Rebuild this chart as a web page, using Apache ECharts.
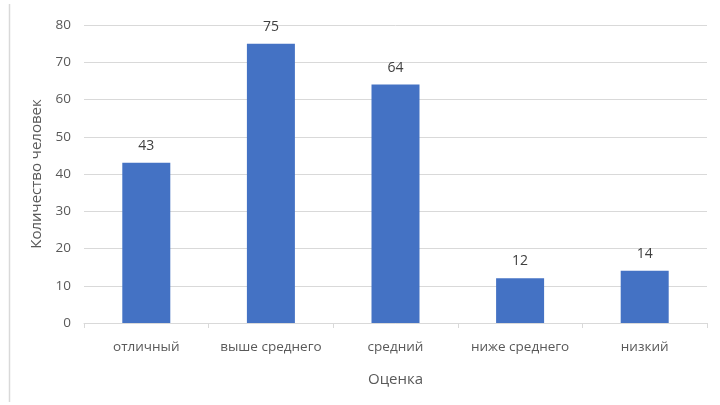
<!DOCTYPE html>
<html>
<head>
<meta charset="utf-8">
<script src="https://cdn.jsdelivr.net/npm/echarts@6/dist/echarts.min.js"></script>
<style>
  html, body { margin: 0; padding: 0; background: #ffffff; }
  #chart { width: 720px; height: 405px; }
</style>
</head>
<body>
<div id="chart"></div>
<script>
// Распределение по оценкам
const categories = ['отличный', 'выше среднего', 'средний', 'ниже среднего', 'низкий'];
const counts = [43, 75, 64, 12, 14];
const yTicks = { min: 0, max: 80, interval: 10 };

const font = '"Open Sans", "Noto Sans", sans-serif';
const textColor = '#595959';

const chart = echarts.init(document.getElementById('chart'));
chart.setOption({
  animation: false,
  textStyle: { fontFamily: font },
  graphic: [{
    type: 'line',
    shape: { x1: 9.5, y1: 4, x2: 9.5, y2: 402 },
    style: { stroke: '#d9d9d9', lineWidth: 1.5 }
  }],
  grid: { left: 84, right: 13, top: 25, bottom: 82 },
  xAxis: {
    type: 'category',
    data: categories,
    name: 'Оценка',
    nameLocation: 'middle',
    nameGap: 49,
    nameTextStyle: { color: textColor, fontSize: 15, fontFamily: font },
    axisLine: { lineStyle: { color: '#d9d9d9', width: 1 } },
    axisTick: { show: true, length: 5, lineStyle: { color: '#d9d9d9' } },
    axisLabel: { color: textColor, fontSize: 13.5, margin: 17, interval: 0, fontFamily: font }
  },
  yAxis: {
    type: 'value',
    min: yTicks.min,
    max: yTicks.max,
    interval: yTicks.interval,
    name: 'Количество человек',
    nameLocation: 'middle',
    nameGap: 36,
    nameTextStyle: { color: textColor, fontSize: 15, fontFamily: font },
    axisLine: { show: false },
    axisTick: { show: false },
    axisLabel: { color: textColor, fontSize: 13.5, margin: 13, fontFamily: font },
    splitLine: { lineStyle: { color: '#d9d9d9', width: 1 } }
  },
  series: [{
    type: 'bar',
    data: counts,
    barWidth: 48,
    itemStyle: { color: '#4472c4' },
    label: {
      show: true,
      position: 'top',
      distance: 10,
      color: '#404040',
      fontSize: 14,
      fontFamily: font
    }
  }]
});
</script>
</body>
</html>
